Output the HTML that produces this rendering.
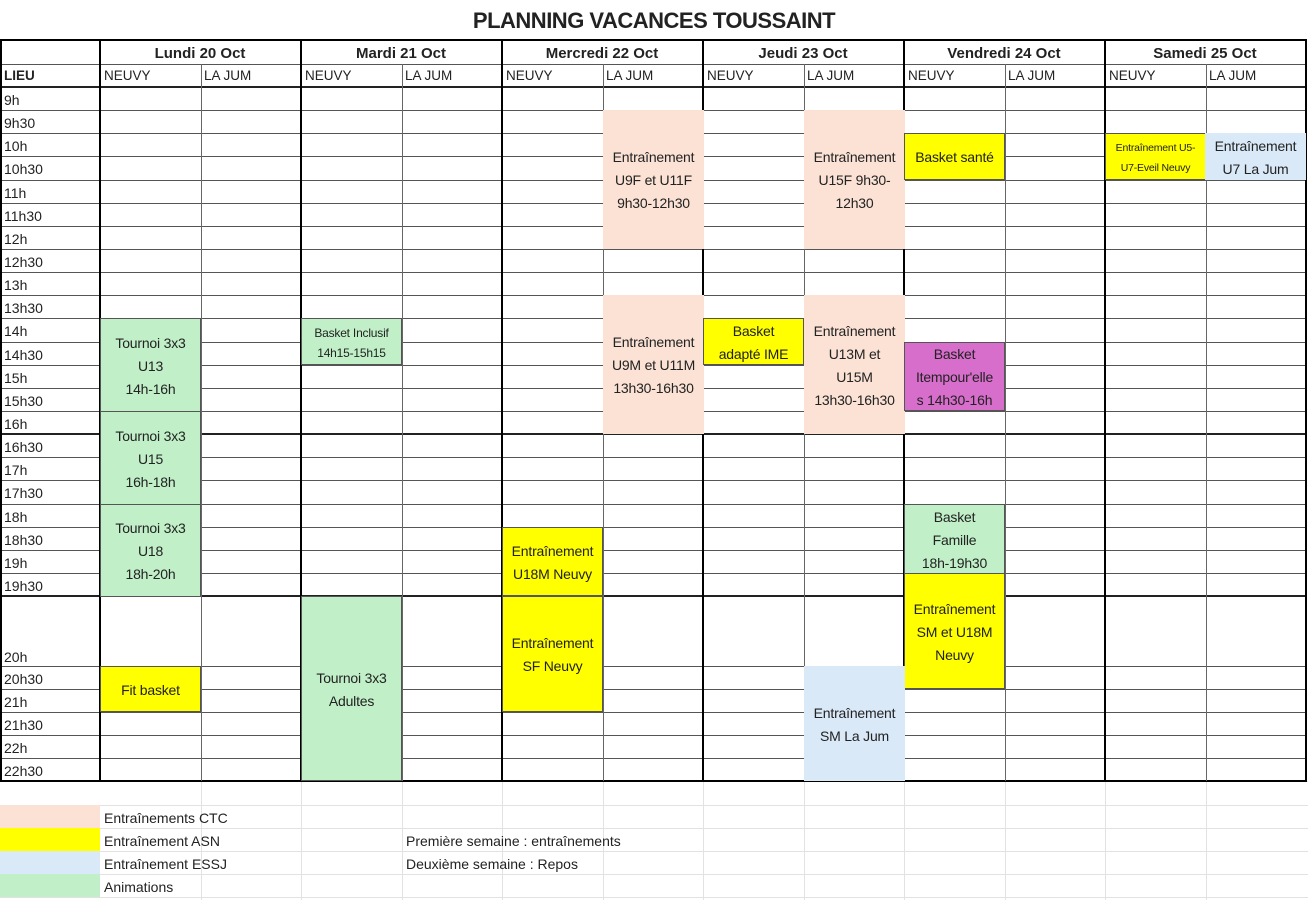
<!DOCTYPE html>
<html><head><meta charset="utf-8">
<style>
body{margin:0;width:1308px;height:900px;background:#fff;position:relative;overflow:hidden;font-family:"Liberation Sans",sans-serif;color:#222}
.a{position:absolute}
.t{position:absolute;left:4px;font-size:14px;white-space:nowrap}
.ev{position:absolute;display:flex;align-items:center;justify-content:center;text-align:center;font-size:14px;line-height:23px;box-sizing:border-box;border:1px solid transparent;letter-spacing:-0.2px;padding-top:2px}
.hd{position:absolute;top:45px;font-size:15px;font-weight:bold;text-align:center;width:200px}
.sub{position:absolute;top:68px;font-size:13.5px}
.ctc{background:#fbe2d5}.asn{background:#ffff00;border-color:#555}.ess{background:#dae9f8}.ani{background:#c1f0c8;border-color:#555}.mag{background:#d86ecc;border-color:#555}
.tm .t{margin-top:2px}
</style></head><body>
<div id="g"></div>
<div class="a" style="left:0;top:8px;width:1308px;text-align:center;font-size:22px;font-weight:bold;letter-spacing:-0.5px">PLANNING VACANCES TOUSSAINT</div>

<div class="hd" style="left:100px">Lundi 20 Oct</div>
<div class="hd" style="left:301px">Mardi 21 Oct</div>
<div class="hd" style="left:502px">Mercredi 22 Oct</div>
<div class="hd" style="left:703px">Jeudi 23 Oct</div>
<div class="hd" style="left:904px">Vendredi 24 Oct</div>
<div class="hd" style="left:1105px">Samedi 25 Oct</div>

<div class="sub" style="left:4px;font-weight:bold">LIEU</div>
<div class="sub" style="left:104px">NEUVY</div><div class="sub" style="left:204px">LA JUM</div>
<div class="sub" style="left:305px">NEUVY</div><div class="sub" style="left:405px">LA JUM</div>
<div class="sub" style="left:506px">NEUVY</div><div class="sub" style="left:606px">LA JUM</div>
<div class="sub" style="left:707px">NEUVY</div><div class="sub" style="left:807px">LA JUM</div>
<div class="sub" style="left:908px">NEUVY</div><div class="sub" style="left:1008px">LA JUM</div>
<div class="sub" style="left:1109px">NEUVY</div><div class="sub" style="left:1209px">LA JUM</div>

<div class="tm">
<div class="t" style="top:90px">9h</div>
<div class="t" style="top:113px">9h30</div>
<div class="t" style="top:136px">10h</div>
<div class="t" style="top:159px">10h30</div>
<div class="t" style="top:183px">11h</div>
<div class="t" style="top:206px">11h30</div>
<div class="t" style="top:229px">12h</div>
<div class="t" style="top:252px">12h30</div>
<div class="t" style="top:275px">13h</div>
<div class="t" style="top:298px">13h30</div>
<div class="t" style="top:321px">14h</div>
<div class="t" style="top:345px">14h30</div>
<div class="t" style="top:368px">15h</div>
<div class="t" style="top:391px">15h30</div>
<div class="t" style="top:414px">16h</div>
<div class="t" style="top:437px">16h30</div>
<div class="t" style="top:460px">17h</div>
<div class="t" style="top:483px">17h30</div>
<div class="t" style="top:507px">18h</div>
<div class="t" style="top:530px">18h30</div>
<div class="t" style="top:553px">19h</div>
<div class="t" style="top:576px">19h30</div>
<div class="t" style="top:647px">20h</div>
<div class="t" style="top:669px">20h30</div>
<div class="t" style="top:692px">21h</div>
<div class="t" style="top:715px">21h30</div>
<div class="t" style="top:738px">22h</div>
<div class="t" style="top:761px">22h30</div>
</div>

<div class="ev ctc" style="left:603px;top:110px;width:101px;height:139px">Entraînement<br>U9F et U11F<br>9h30-12h30</div>
<div class="ev ctc" style="left:804px;top:110px;width:101px;height:139px">Entraînement<br>U15F 9h30-<br>12h30</div>
<div class="ev asn" style="left:904px;top:133px;width:101px;height:47px">Basket santé</div>
<div class="ev asn" style="left:1105px;top:133px;width:101px;height:47px;font-size:10.5px;line-height:20px">Entraînement U5-<br>U7-Eveil Neuvy</div>
<div class="ev ess" style="left:1205px;top:133px;width:101px;height:47px">Entraînement<br>U7 La Jum</div>

<div class="ev ani" style="left:100px;top:318px;width:101px;height:94px">Tournoi 3x3<br>U13<br>14h-16h</div>
<div class="ev ani" style="left:100px;top:411px;width:101px;height:94px">Tournoi 3x3<br>U15<br>16h-18h</div>
<div class="ev ani" style="left:100px;top:504px;width:101px;height:93px">Tournoi 3x3<br>U18<br>18h-20h</div>
<div class="ev ani" style="left:301px;top:318px;width:101px;height:47px;font-size:12px;line-height:20px">Basket Inclusif<br>14h15-15h15</div>
<div class="ev ctc" style="left:603px;top:295px;width:101px;height:139px">Entraînement<br>U9M et U11M<br>13h30-16h30</div>
<div class="ev asn" style="left:703px;top:318px;width:101px;height:47px">Basket<br>adapté IME</div>
<div class="ev ctc" style="left:804px;top:295px;width:101px;height:139px">Entraînement<br>U13M et<br>U15M<br>13h30-16h30</div>
<div class="ev mag" style="left:904px;top:342px;width:101px;height:69px">Basket<br>Itempour'elle<br>s 14h30-16h</div>

<div class="ev asn" style="left:502px;top:527px;width:101px;height:69px">Entraînement<br>U18M Neuvy</div>
<div class="ev asn" style="left:502px;top:596px;width:101px;height:116px">Entraînement<br>SF Neuvy</div>
<div class="ev ani" style="left:904px;top:504px;width:101px;height:70px">Basket<br>Famille<br>18h-19h30</div>
<div class="ev asn" style="left:904px;top:573px;width:101px;height:116px">Entraînement<br>SM et U18M<br>Neuvy</div>
<div class="ev ani" style="left:301px;top:596px;width:101px;height:185px">Tournoi 3x3<br>Adultes</div>
<div class="ev asn" style="left:100px;top:666px;width:101px;height:46px">Fit basket</div>
<div class="ev ess" style="left:804px;top:666px;width:101px;height:115px">Entraînement<br>SM La Jum</div>

<div class="a ctc" style="left:0;top:805px;width:100px;height:23px"></div>
<div class="a asn" style="left:0;top:828px;width:100px;height:23px;border:none"></div>
<div class="a ess" style="left:0;top:851px;width:100px;height:23px"></div>
<div class="a ani" style="left:0;top:874px;width:100px;height:23px;border:none"></div>
<div class="t" style="left:104px;top:810px">Entraînements CTC</div>
<div class="t" style="left:104px;top:833px">Entraînement ASN</div>
<div class="t" style="left:104px;top:856px">Entraînement ESSJ</div>
<div class="t" style="left:104px;top:879px">Animations</div>
<div class="t" style="left:406px;top:833px">Première semaine : entraînements</div>
<div class="t" style="left:406px;top:856px">Deuxième semaine : Repos</div>

<script>
(function(){
var g=document.getElementById('g'),h='';
function L(x,y,w,hh,c,z){h+='<div style="position:absolute;left:'+x+'px;top:'+y+'px;width:'+w+'px;height:'+hh+'px;background:'+c+';z-index:'+(z||0)+'"></div>';}
var cx=[];for(var i=0;i<=12;i++)cx.push(Math.round(100+i*100.5));
var ly=[781,805,828,851,874,897];
ly.forEach(function(y){L(0,y,1308,1,'#e2e2e2');});
for(var i=1;i<12;i++)L(cx[i],781,1,119,'#e2e2e2');
var rows=[];for(var i=0;i<=22;i++)rows.push(Math.round(87+i*23.14));
rows=rows.concat([666,689,712,735,758]);
rows.forEach(function(y){L(0,y,1306,1,'#555');});
L(0,64,1306,1,'#555');
L(0,39,1306,2,'#000');L(0,86,1306,2,'#222');L(0,433,1306,2,'#222');L(0,595,1306,2,'#222');L(0,780,1306,2,'#000');
L(0,39,2,743,'#000');L(99,39,2,743,'#000');
for(var i=1;i<=12;i++){ if(i%2==0)L(cx[i]-1,39,2,743,'#000'); else L(cx[i],64,1,717,'#666');}
g.innerHTML=h;
})();
</script>
</body></html>
